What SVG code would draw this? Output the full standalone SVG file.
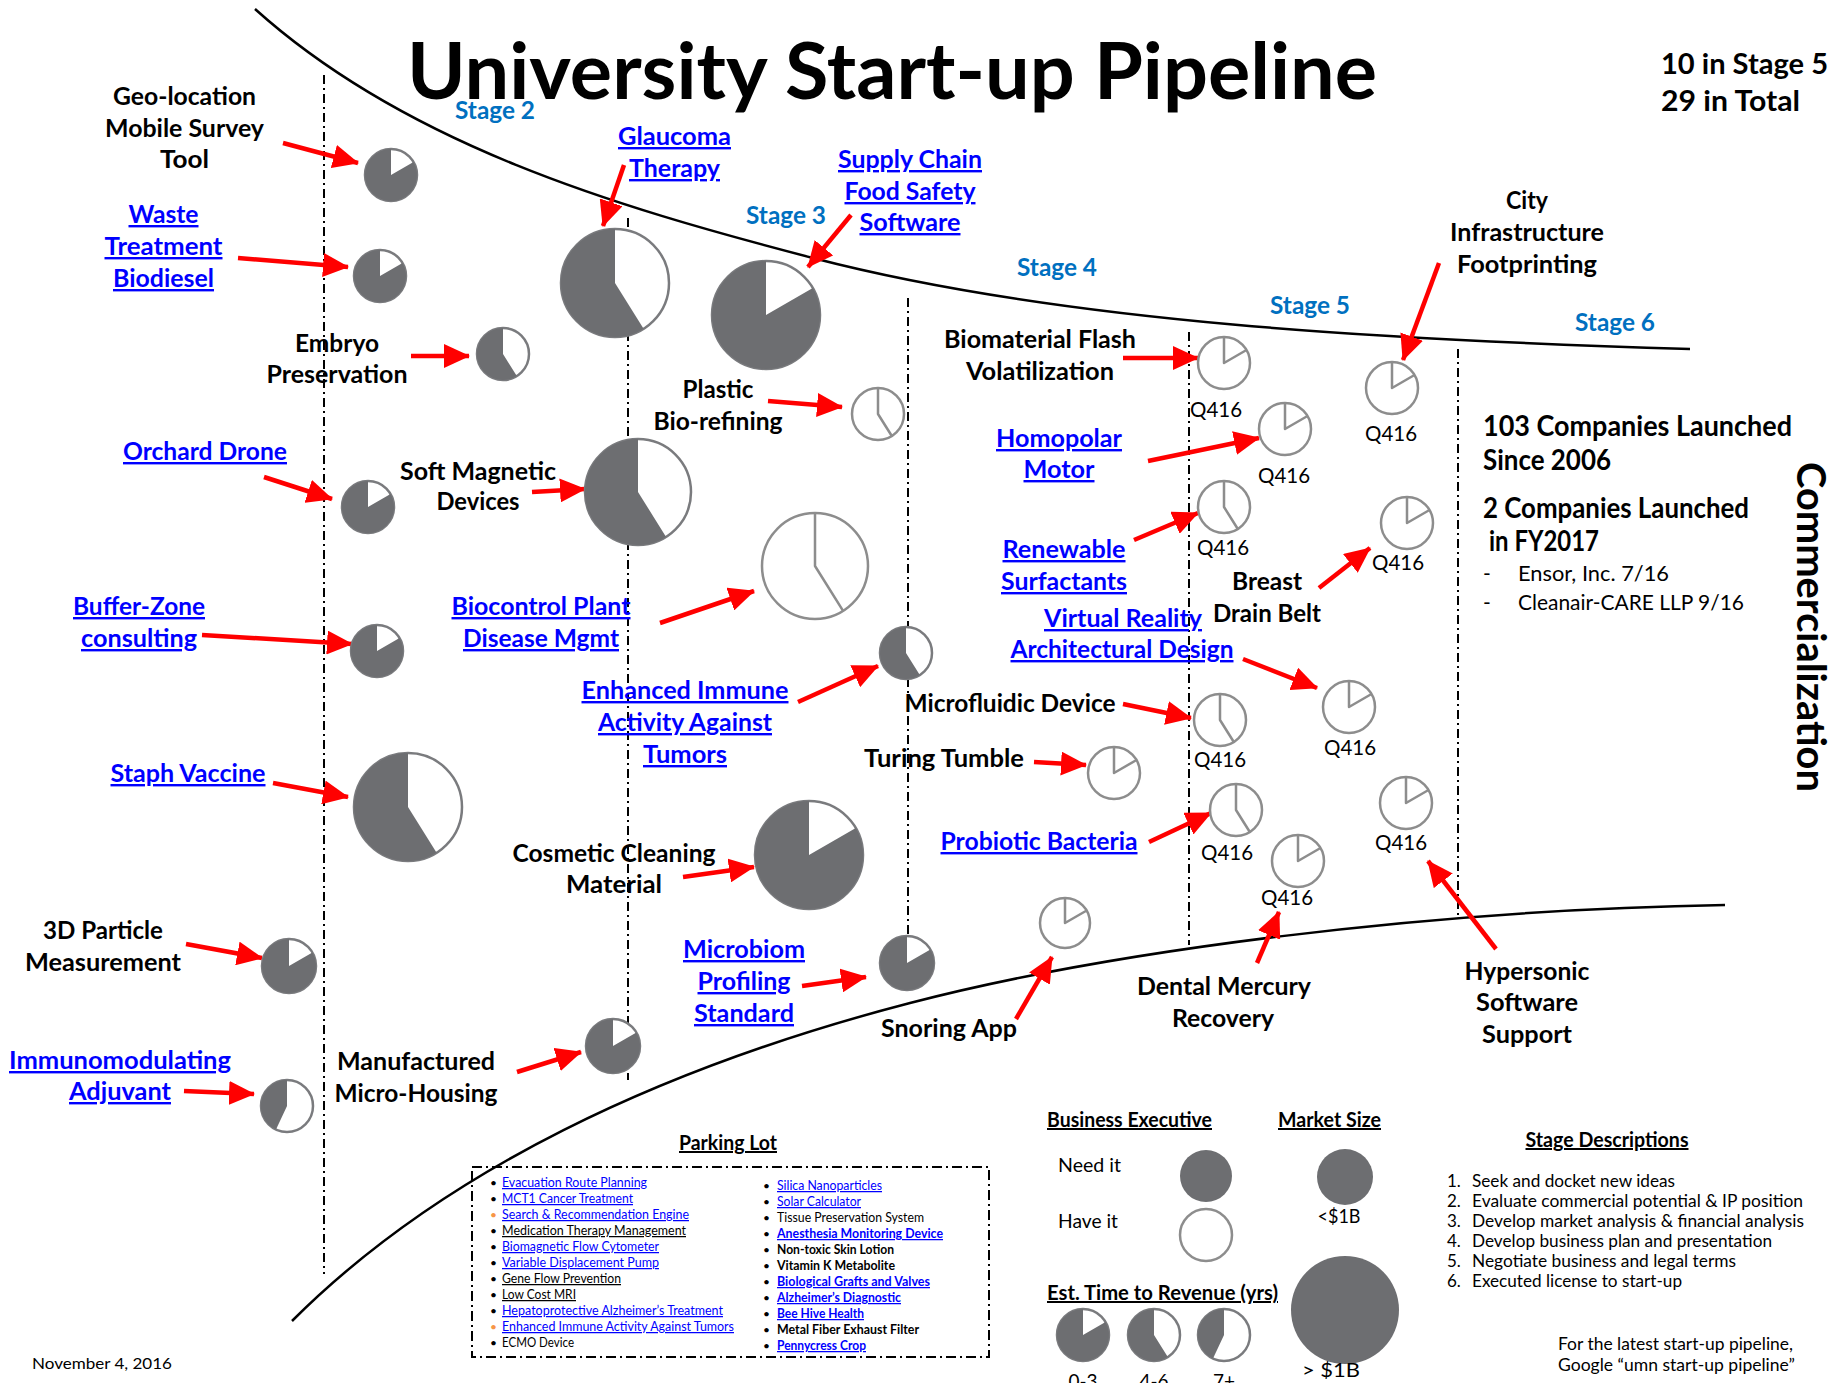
<svg xmlns="http://www.w3.org/2000/svg" width="1833" height="1383" viewBox="0 0 1833 1383">
<defs>
<marker id="ah" markerUnits="userSpaceOnUse" markerWidth="26" markerHeight="24" refX="25" refY="12" orient="auto"><path d="M0,0 L26,12 L0,24 z" fill="#ff0000"/></marker>
</defs>
<style>
text{font-family:Lato,"Open Sans","Liberation Sans",sans-serif}
.lb{font-weight:700;font-size:24px;fill:#000;text-anchor:middle}
.lk{fill:#0000ff;text-decoration:underline}
.st{font-weight:700;font-size:24px;fill:#0070c0;text-anchor:middle}
.q{font-size:22px;fill:#000;text-anchor:middle}
.pg{fill:#6d6e71}
.ring{fill:#fff;stroke:#7a7b7e;stroke-width:2.5}
.hv{fill:#fff;stroke:#8d8d8d;stroke-width:2.5}
.hl{fill:none;stroke:#8d8d8d;stroke-width:2.5;stroke-linejoin:round}
.arr{stroke:#ff0000;stroke-width:4.5;fill:none;marker-end:url(#ah)}
.dv{stroke:#000;stroke-width:2;stroke-dasharray:9 4 2 4;fill:none}
.cv{fill:none;stroke:#000;stroke-width:2.5}
.pl{font-size:12.5px;fill:#000}
.plb{font-size:12.5px;fill:#000;font-weight:700}
.plk{fill:#0000ff;text-decoration:underline}
.bl{font-size:12px;fill:#000}
.sd{font-size:17px;fill:#000}
.hd{font-weight:700;font-size:20px;fill:#000;text-decoration:underline}
.lg{font-size:19px;fill:#000}
.rb{font-weight:700;font-size:28px;fill:#000}
.rr{font-size:21px;fill:#000}
</style>

<g id="frame">
<path class="cv" d="M255,9 C405,144 613,206 813,258 C1063,323 1390,340 1690,349"/>
<path class="cv" d="M292,1321 C442,1171 660,1068 910,1003 C1110,951 1425,910 1725,905"/>
<line class="dv" x1="324" y1="75" x2="324" y2="1274"/>
<line class="dv" x1="628" y1="218" x2="628" y2="1080"/>
<line class="dv" x1="908" y1="298" x2="908" y2="995"/>
<line class="dv" x1="1189" y1="332" x2="1189" y2="945"/>
<line class="dv" x1="1458" y1="349" x2="1458" y2="915"/>
</g>

<g id="titles">
<text x="892" y="99" font-size="78" font-weight="700" text-anchor="middle" textLength="970" lengthAdjust="spacingAndGlyphs">University Start-up Pipeline</text>
<text class="rb" x="1661" y="74" font-size="30" textLength="167" lengthAdjust="spacingAndGlyphs">10 in Stage 5</text>
<text class="rb" x="1661" y="111" font-size="30" textLength="139" lengthAdjust="spacingAndGlyphs">29 in Total</text>
<text class="st" x="495" y="119" textLength="80" lengthAdjust="spacingAndGlyphs">Stage 2</text>
<text class="st" x="786" y="224" textLength="80" lengthAdjust="spacingAndGlyphs">Stage 3</text>
<text class="st" x="1057" y="276" textLength="80" lengthAdjust="spacingAndGlyphs">Stage 4</text>
<text class="st" x="1310" y="314" textLength="80" lengthAdjust="spacingAndGlyphs">Stage 5</text>
<text class="st" x="1615" y="331" textLength="80" lengthAdjust="spacingAndGlyphs">Stage 6</text>
<text x="0" y="0" font-size="40" font-weight="700" transform="translate(1797,462) rotate(90)" textLength="330" lengthAdjust="spacingAndGlyphs">Commercialization</text>
</g>

<g id="connectors">
<line class="arr" x1="283" y1="143" x2="358" y2="163"/>
<line class="arr" x1="238" y1="258" x2="348" y2="267"/>
<line class="arr" x1="411" y1="356" x2="469" y2="356"/>
<line class="arr" x1="264" y1="477" x2="332" y2="499"/>
<line class="arr" x1="202" y1="635" x2="352" y2="644"/>
<line class="arr" x1="273" y1="783" x2="348" y2="797"/>
<line class="arr" x1="186" y1="944" x2="262" y2="958"/>
<line class="arr" x1="184" y1="1091" x2="254" y2="1094"/>
<line class="arr" x1="624" y1="165" x2="603" y2="226"/>
<line class="arr" x1="768" y1="401" x2="842" y2="407"/>
<line class="arr" x1="532" y1="492" x2="585" y2="489"/>
<line class="arr" x1="660" y1="623" x2="754" y2="591"/>
<line class="arr" x1="683" y1="877" x2="754" y2="867"/>
<line class="arr" x1="517" y1="1072" x2="581" y2="1052"/>
<line class="arr" x1="851" y1="215" x2="808" y2="267"/>
<line class="arr" x1="798" y1="702" x2="878" y2="666"/>
<line class="arr" x1="802" y1="986" x2="866" y2="977"/>
<line class="arr" x1="1123" y1="358" x2="1198" y2="358"/>
<line class="arr" x1="1148" y1="461" x2="1259" y2="438"/>
<line class="arr" x1="1134" y1="540" x2="1198" y2="513"/>
<line class="arr" x1="1243" y1="659" x2="1317" y2="688"/>
<line class="arr" x1="1123" y1="704" x2="1191" y2="718"/>
<line class="arr" x1="1034" y1="762" x2="1086" y2="765"/>
<line class="arr" x1="1149" y1="842" x2="1211" y2="813"/>
<line class="arr" x1="1016" y1="1019" x2="1052" y2="957"/>
<line class="arr" x1="1439" y1="263" x2="1403" y2="360"/>
<line class="arr" x1="1319" y1="588" x2="1370" y2="548"/>
<line class="arr" x1="1496" y1="949" x2="1428" y2="861"/>
<line class="arr" x1="1257" y1="963" x2="1279" y2="912"/>
</g>

<g id="n-geo">
<text class="lb" x="184.5" y="105" textLength="143" lengthAdjust="spacingAndGlyphs">Geo-location</text>
<text class="lb" x="184.5" y="137" textLength="159" lengthAdjust="spacingAndGlyphs">Mobile Survey</text>
<text class="lb" x="184.5" y="168" textLength="49" lengthAdjust="spacingAndGlyphs">Tool</text>
<circle class="ring" cx="391" cy="175" r="26"/><path class="pg" d="M391,175 L413.5,162 A26,26 0 1 1 391,149 Z"/>
</g>
<g id="n-waste">
<text class="lb lk" x="163.5" y="223" textLength="70" lengthAdjust="spacingAndGlyphs">Waste</text>
<text class="lb lk" x="163.5" y="255" textLength="118" lengthAdjust="spacingAndGlyphs">Treatment</text>
<text class="lb lk" x="163.5" y="287" textLength="101" lengthAdjust="spacingAndGlyphs">Biodiesel</text>
<circle class="ring" cx="380" cy="276" r="26"/><path class="pg" d="M380,276 L402.5,263 A26,26 0 1 1 380,250 Z"/>
</g>
<g id="n-embryo">
<text class="lb" x="337" y="352" textLength="84" lengthAdjust="spacingAndGlyphs">Embryo</text>
<text class="lb" x="337" y="383" textLength="141" lengthAdjust="spacingAndGlyphs">Preservation</text>
<circle class="ring" cx="503" cy="354" r="26"/><path class="pg" d="M503,354 L516.8,376 A26,26 0 1 1 503,328 Z"/>
</g>
<g id="n-orchard">
<text class="lb lk" x="205" y="460" textLength="164" lengthAdjust="spacingAndGlyphs">Orchard Drone</text>
<circle class="ring" cx="368" cy="507" r="26"/><path class="pg" d="M368,507 L390.5,494 A26,26 0 1 1 368,481 Z"/>
</g>
<g id="n-buffer">
<text class="lb lk" x="139" y="615" textLength="132" lengthAdjust="spacingAndGlyphs">Buffer-Zone</text>
<text class="lb lk" x="139" y="647" textLength="116" lengthAdjust="spacingAndGlyphs">consulting</text>
<circle class="ring" cx="377" cy="651" r="26"/><path class="pg" d="M377,651 L399.5,638 A26,26 0 1 1 377,625 Z"/>
</g>
<g id="n-staph">
<text class="lb lk" x="188" y="782" textLength="155" lengthAdjust="spacingAndGlyphs">Staph Vaccine</text>
<circle class="ring" cx="408" cy="807" r="54"/><path class="pg" d="M408,807 L436.6,852.8 A54,54 0 1 1 408,753 Z"/>
</g>
<g id="n-3d">
<text class="lb" x="103" y="939" textLength="120" lengthAdjust="spacingAndGlyphs">3D Particle</text>
<text class="lb" x="103" y="971" textLength="156" lengthAdjust="spacingAndGlyphs">Measurement</text>
<circle class="ring" cx="289" cy="966" r="27"/><path class="pg" d="M289,966 L312.4,952.5 A27,27 0 1 1 289,939 Z"/>
</g>
<g id="n-immuno">
<text class="lb lk" x="120" y="1069" textLength="222" lengthAdjust="spacingAndGlyphs">Immunomodulating</text>
<text class="lb lk" x="120" y="1100" textLength="102" lengthAdjust="spacingAndGlyphs">Adjuvant</text>
<circle class="ring" cx="287" cy="1106" r="26"/><path class="pg" d="M287,1106 L276,1129.6 A26,26 0 0 1 287,1080 Z"/>
</g>
<g id="n-glaucoma">
<text class="lb lk" x="674.5" y="145" textLength="113" lengthAdjust="spacingAndGlyphs">Glaucoma</text>
<text class="lb lk" x="674.5" y="177" textLength="91" lengthAdjust="spacingAndGlyphs">Therapy</text>
<circle class="ring" cx="615" cy="283" r="54"/><path class="pg" d="M615,283 L643.6,328.8 A54,54 0 1 1 615,229 Z"/>
</g>
<g id="n-plastic">
<text class="lb" x="718" y="398" textLength="71" lengthAdjust="spacingAndGlyphs">Plastic</text>
<text class="lb" x="718" y="430" textLength="129" lengthAdjust="spacingAndGlyphs">Bio-refining</text>
<circle class="hv" cx="878" cy="414" r="26"/><path class="hl" d="M878,388 L878,414 L891.8,436"/>
</g>
<g id="n-softmag">
<text class="lb" x="478" y="480" textLength="156" lengthAdjust="spacingAndGlyphs">Soft Magnetic</text>
<text class="lb" x="478" y="510" textLength="83" lengthAdjust="spacingAndGlyphs">Devices</text>
<circle class="ring" cx="638" cy="492" r="53"/><path class="pg" d="M638,492 L666.1,536.9 A53,53 0 1 1 638,439 Z"/>
</g>
<g id="n-biocontrol">
<text class="lb lk" x="541" y="615" textLength="179" lengthAdjust="spacingAndGlyphs">Biocontrol Plant</text>
<text class="lb lk" x="541" y="647" textLength="156" lengthAdjust="spacingAndGlyphs">Disease Mgmt</text>
<circle class="hv" cx="815" cy="566" r="53"/><path class="hl" d="M815,513 L815,566 L843.1,610.9"/>
</g>
<g id="n-cosmetic">
<text class="lb" x="614" y="862" textLength="203" lengthAdjust="spacingAndGlyphs">Cosmetic Cleaning</text>
<text class="lb" x="614" y="893" textLength="96" lengthAdjust="spacingAndGlyphs">Material</text>
<circle class="ring" cx="809" cy="855" r="54"/><path class="pg" d="M809,855 L855.8,828 A54,54 0 1 1 809,801 Z"/>
</g>
<g id="n-manufactured">
<text class="lb" x="416" y="1070" textLength="158" lengthAdjust="spacingAndGlyphs">Manufactured</text>
<text class="lb" x="416" y="1102" textLength="163" lengthAdjust="spacingAndGlyphs">Micro-Housing</text>
<circle class="ring" cx="613" cy="1046" r="27"/><path class="pg" d="M613,1046 L636.4,1032.5 A27,27 0 1 1 613,1019 Z"/>
</g>
<g id="n-supply">
<text class="lb lk" x="910" y="168" textLength="144" lengthAdjust="spacingAndGlyphs">Supply Chain</text>
<text class="lb lk" x="910" y="200" textLength="131" lengthAdjust="spacingAndGlyphs">Food Safety</text>
<text class="lb lk" x="910" y="231" textLength="101" lengthAdjust="spacingAndGlyphs">Software</text>
<circle class="ring" cx="766" cy="315" r="54"/><path class="pg" d="M766,315 L812.8,288 A54,54 0 1 1 766,261 Z"/>
</g>
<g id="n-enhanced">
<text class="lb lk" x="685" y="699" textLength="207" lengthAdjust="spacingAndGlyphs">Enhanced Immune</text>
<text class="lb lk" x="685" y="731" textLength="174" lengthAdjust="spacingAndGlyphs">Activity Against</text>
<text class="lb lk" x="685" y="763" textLength="84" lengthAdjust="spacingAndGlyphs">Tumors</text>
<circle class="ring" cx="906" cy="653" r="26"/><path class="pg" d="M906,653 L919.8,675 A26,26 0 1 1 906,627 Z"/>
</g>
<g id="n-microbiom">
<text class="lb lk" x="744" y="958" textLength="122" lengthAdjust="spacingAndGlyphs">Microbiom</text>
<text class="lb lk" x="744" y="990" textLength="93" lengthAdjust="spacingAndGlyphs">Profiling</text>
<text class="lb lk" x="744" y="1022" textLength="100" lengthAdjust="spacingAndGlyphs">Standard</text>
<circle class="ring" cx="907" cy="963" r="27"/><path class="pg" d="M907,963 L930.4,949.5 A27,27 0 1 1 907,936 Z"/>
</g>
<g id="n-biomaterial">
<text class="lb" x="1040" y="348" textLength="192" lengthAdjust="spacingAndGlyphs">Biomaterial Flash</text>
<text class="lb" x="1040" y="380" textLength="148" lengthAdjust="spacingAndGlyphs">Volatilization</text>
<circle class="hv" cx="1224" cy="363" r="26"/><path class="hl" d="M1224,337 L1224,363 L1246.5,350"/>
<text class="q" x="1216" y="417" textLength="52" lengthAdjust="spacingAndGlyphs">Q416</text>
</g>
<g id="n-homopolar">
<text class="lb lk" x="1059" y="447" textLength="126" lengthAdjust="spacingAndGlyphs">Homopolar</text>
<text class="lb lk" x="1059" y="478" textLength="71" lengthAdjust="spacingAndGlyphs">Motor</text>
<circle class="hv" cx="1285" cy="429" r="26"/><path class="hl" d="M1285,403 L1285,429 L1307.5,416"/>
<text class="q" x="1284" y="483" textLength="52" lengthAdjust="spacingAndGlyphs">Q416</text>
</g>
<g id="n-renewable">
<text class="lb lk" x="1064" y="558" textLength="123" lengthAdjust="spacingAndGlyphs">Renewable</text>
<text class="lb lk" x="1064" y="590" textLength="126" lengthAdjust="spacingAndGlyphs">Surfactants</text>
<circle class="hv" cx="1224" cy="507" r="26"/><path class="hl" d="M1224,481 L1224,507 L1237.8,529"/>
<text class="q" x="1223" y="555" textLength="52" lengthAdjust="spacingAndGlyphs">Q416</text>
</g>
<g id="n-vr">
<text class="lb lk" x="1123" y="627" textLength="158" lengthAdjust="spacingAndGlyphs">Virtual Reality</text>
<text class="lb lk" x="1122" y="658" textLength="223" lengthAdjust="spacingAndGlyphs">Architectural Design</text>
<circle class="hv" cx="1349" cy="707" r="26"/><path class="hl" d="M1349,681 L1349,707 L1371.5,694"/>
<text class="q" x="1350" y="755" textLength="52" lengthAdjust="spacingAndGlyphs">Q416</text>
</g>
<g id="n-microfluidic">
<text class="lb" x="1010" y="712" textLength="211" lengthAdjust="spacingAndGlyphs">Microfluidic Device</text>
<circle class="hv" cx="1220" cy="720" r="26"/><path class="hl" d="M1220,694 L1220,720 L1233.8,742"/>
<text class="q" x="1220" y="767" textLength="52" lengthAdjust="spacingAndGlyphs">Q416</text>
</g>
<g id="n-turing">
<text class="lb" x="944" y="767" textLength="160" lengthAdjust="spacingAndGlyphs">Turing Tumble</text>
<circle class="hv" cx="1114" cy="773" r="26"/><path class="hl" d="M1114,747 L1114,773 L1136.5,760"/>
</g>
<g id="n-probiotic">
<text class="lb lk" x="1039" y="850" textLength="197" lengthAdjust="spacingAndGlyphs">Probiotic Bacteria</text>
<circle class="hv" cx="1236" cy="810" r="26"/><path class="hl" d="M1236,784 L1236,810 L1249.8,832"/>
<text class="q" x="1227" y="860" textLength="52" lengthAdjust="spacingAndGlyphs">Q416</text>
</g>
<g id="n-snoring">
<text class="lb" x="949" y="1037" textLength="136" lengthAdjust="spacingAndGlyphs">Snoring App</text>
<circle class="hv" cx="1065" cy="923" r="25"/><path class="hl" d="M1065,898 L1065,923 L1086.7,910.5"/>
</g>
<g id="n-city">
<text class="lb" x="1527" y="209" textLength="42" lengthAdjust="spacingAndGlyphs">City</text>
<text class="lb" x="1527" y="241" textLength="154" lengthAdjust="spacingAndGlyphs">Infrastructure</text>
<text class="lb" x="1527" y="273" textLength="140" lengthAdjust="spacingAndGlyphs">Footprinting</text>
<circle class="hv" cx="1392" cy="388" r="26"/><path class="hl" d="M1392,362 L1392,388 L1414.5,375"/>
<text class="q" x="1391" y="441" textLength="52" lengthAdjust="spacingAndGlyphs">Q416</text>
</g>
<g id="n-breast">
<text class="lb" x="1267" y="590" textLength="70" lengthAdjust="spacingAndGlyphs">Breast</text>
<text class="lb" x="1267" y="622" textLength="108" lengthAdjust="spacingAndGlyphs">Drain Belt</text>
<circle class="hv" cx="1407" cy="523" r="26"/><path class="hl" d="M1407,497 L1407,523 L1429.5,510"/>
<text class="q" x="1398" y="570" textLength="52" lengthAdjust="spacingAndGlyphs">Q416</text>
</g>
<g id="n-hypersonic">
<text class="lb" x="1527" y="980" textLength="125" lengthAdjust="spacingAndGlyphs">Hypersonic</text>
<text class="lb" x="1527" y="1011" textLength="102" lengthAdjust="spacingAndGlyphs">Software</text>
<text class="lb" x="1527" y="1043" textLength="90" lengthAdjust="spacingAndGlyphs">Support</text>
<circle class="hv" cx="1406" cy="803" r="26"/><path class="hl" d="M1406,777 L1406,803 L1428.5,790"/>
<text class="q" x="1401" y="850" textLength="52" lengthAdjust="spacingAndGlyphs">Q416</text>
</g>
<g id="n-dental">
<text class="lb" x="1224" y="995" textLength="174" lengthAdjust="spacingAndGlyphs">Dental Mercury</text>
<text class="lb" x="1223" y="1027" textLength="102" lengthAdjust="spacingAndGlyphs">Recovery</text>
<circle class="hv" cx="1298" cy="861" r="26"/><path class="hl" d="M1298,835 L1298,861 L1320.5,848"/>
<text class="q" x="1287" y="905" textLength="52" lengthAdjust="spacingAndGlyphs">Q416</text>
</g>

<g id="launched">
<text class="rb" x="1483" y="436" textLength="309" lengthAdjust="spacingAndGlyphs">103 Companies Launched</text>
<text class="rb" x="1483" y="470" textLength="128" lengthAdjust="spacingAndGlyphs">Since 2006</text>
<text class="rb" x="1483" y="518" font-size="26" textLength="266" lengthAdjust="spacingAndGlyphs">2 Companies Launched</text>
<text class="rb" x="1489" y="551" font-size="26" textLength="110" lengthAdjust="spacingAndGlyphs">in FY2017</text>
<text class="rr" x="1483" y="581">-</text>
<text class="rr" x="1518" y="581" textLength="151" lengthAdjust="spacingAndGlyphs">Ensor, Inc. 7/16</text>
<text class="rr" x="1483" y="610">-</text>
<text class="rr" x="1518" y="610" textLength="226" lengthAdjust="spacingAndGlyphs">Cleanair-CARE LLP 9/16</text>
</g>

<g id="parking-lot">
<text class="hd" x="728" y="1150" text-anchor="middle" font-size="19" textLength="98" lengthAdjust="spacingAndGlyphs">Parking Lot</text>
<rect x="472" y="1167" width="517" height="190" fill="none" stroke="#000" stroke-width="2" stroke-dasharray="10 4 2 4"/>
<g class="bl">
<text x="490" y="1187">•</text><text x="490" y="1203">•</text><text x="490" y="1219" fill="#f79646">•</text><text x="490" y="1235">•</text><text x="490" y="1251">•</text><text x="490" y="1267">•</text><text x="490" y="1283">•</text><text x="490" y="1299">•</text><text x="490" y="1315">•</text><text x="490" y="1331" fill="#f79646">•</text><text x="490" y="1347">•</text>
<text x="763" y="1190">•</text><text x="763" y="1206">•</text><text x="763" y="1222">•</text><text x="763" y="1238">•</text><text x="763" y="1254">•</text><text x="763" y="1270">•</text><text x="763" y="1286">•</text><text x="763" y="1302">•</text><text x="763" y="1318">•</text><text x="763" y="1334">•</text><text x="763" y="1350">•</text>
</g>
<text class="pl plk" x="502" y="1187" textLength="145" lengthAdjust="spacingAndGlyphs">Evacuation Route Planning</text>
<text class="pl plk" x="502" y="1203" textLength="131" lengthAdjust="spacingAndGlyphs">MCT1 Cancer Treatment</text>
<text class="pl plk" x="502" y="1219" textLength="187" lengthAdjust="spacingAndGlyphs">Search &amp; Recommendation Engine</text>
<text class="pl" x="502" y="1235" text-decoration="underline" textLength="184" lengthAdjust="spacingAndGlyphs">Medication Therapy Management</text>
<text class="pl plk" x="502" y="1251" textLength="157" lengthAdjust="spacingAndGlyphs">Biomagnetic Flow Cytometer</text>
<text class="pl plk" x="502" y="1267" textLength="157" lengthAdjust="spacingAndGlyphs">Variable Displacement Pump</text>
<text class="pl" x="502" y="1283" text-decoration="underline" textLength="119" lengthAdjust="spacingAndGlyphs">Gene Flow Prevention</text>
<text class="pl" x="502" y="1299" text-decoration="underline" textLength="74" lengthAdjust="spacingAndGlyphs">Low Cost MRI</text>
<text class="pl plk" x="502" y="1315" textLength="221" lengthAdjust="spacingAndGlyphs">Hepatoprotective Alzheimer’s Treatment</text>
<text class="pl plk" x="502" y="1331" textLength="232" lengthAdjust="spacingAndGlyphs">Enhanced Immune Activity Against Tumors</text>
<text class="pl" x="502" y="1347" textLength="72" lengthAdjust="spacingAndGlyphs">ECMO Device</text>
<text class="pl plk" x="777" y="1190" textLength="105" lengthAdjust="spacingAndGlyphs">Silica Nanoparticles</text>
<text class="pl plk" x="777" y="1206" textLength="84" lengthAdjust="spacingAndGlyphs">Solar Calculator</text>
<text class="pl" x="777" y="1222" fill="#333" textLength="147" lengthAdjust="spacingAndGlyphs">Tissue Preservation System</text>
<text class="plb plk" x="777" y="1238" textLength="166" lengthAdjust="spacingAndGlyphs">Anesthesia Monitoring Device</text>
<text class="plb" x="777" y="1254" textLength="117" lengthAdjust="spacingAndGlyphs">Non-toxic Skin Lotion</text>
<text class="plb" x="777" y="1270" textLength="118" lengthAdjust="spacingAndGlyphs">Vitamin K Metabolite</text>
<text class="plb plk" x="777" y="1286" textLength="153" lengthAdjust="spacingAndGlyphs">Biological Grafts and Valves</text>
<text class="plb plk" x="777" y="1302" textLength="124" lengthAdjust="spacingAndGlyphs">Alzheimer’s Diagnostic</text>
<text class="plb plk" x="777" y="1318" textLength="87" lengthAdjust="spacingAndGlyphs">Bee Hive Health</text>
<text class="plb" x="777" y="1334" textLength="142" lengthAdjust="spacingAndGlyphs">Metal Fiber Exhaust Filter</text>
<text class="plb plk" x="777" y="1350" textLength="89" lengthAdjust="spacingAndGlyphs">Pennycress Crop</text>
</g>

<g id="legend">
<text class="hd" x="1047" y="1127" textLength="165" lengthAdjust="spacingAndGlyphs">Business Executive</text>
<text class="hd" x="1278" y="1127" textLength="103" lengthAdjust="spacingAndGlyphs">Market Size</text>
<text class="lg" x="1058" y="1172" textLength="63" lengthAdjust="spacingAndGlyphs">Need it</text>
<text class="lg" x="1058" y="1228" textLength="60" lengthAdjust="spacingAndGlyphs">Have it</text>
<circle class="pg" cx="1206" cy="1176" r="26"/>
<circle class="hv" cx="1206" cy="1235" r="26"/>
<circle class="pg" cx="1345" cy="1177" r="28"/>
<text class="lg" x="1339" y="1223" text-anchor="middle" textLength="43" lengthAdjust="spacingAndGlyphs">&lt;$1B</text>
<circle class="pg" cx="1345" cy="1310" r="54"/>
<text class="lg" x="1331" y="1377" text-anchor="middle" textLength="58" lengthAdjust="spacingAndGlyphs">&gt; $1B</text>
<text class="hd" x="1047" y="1300" textLength="231" lengthAdjust="spacingAndGlyphs">Est. Time to Revenue (yrs)</text>
<circle class="ring" cx="1083" cy="1335" r="26"/><path class="pg" d="M1083,1335 L1105.5,1322 A26,26 0 1 1 1083,1309 Z"/>
<circle class="ring" cx="1154" cy="1335" r="26"/><path class="pg" d="M1154,1335 L1167.8,1357 A26,26 0 1 1 1154,1309 Z"/>
<circle class="ring" cx="1224" cy="1335" r="26"/><path class="pg" d="M1224,1335 L1213,1358.6 A26,26 0 0 1 1224,1309 Z"/>
<text class="lg" x="1083" y="1388" text-anchor="middle">0-3</text>
<text class="lg" x="1154" y="1388" text-anchor="middle">4-6</text>
<text class="lg" x="1224" y="1388" text-anchor="middle">7+</text>
</g>

<g id="stage-descriptions">
<text class="hd" x="1607" y="1147" text-anchor="middle" textLength="163" lengthAdjust="spacingAndGlyphs">Stage Descriptions</text>
<text class="sd" x="1447" y="1187">1.</text><text class="sd" x="1472" y="1187" textLength="203" lengthAdjust="spacingAndGlyphs">Seek and docket new ideas</text>
<text class="sd" x="1447" y="1207">2.</text><text class="sd" x="1472" y="1207" textLength="331" lengthAdjust="spacingAndGlyphs">Evaluate commercial potential &amp; IP position</text>
<text class="sd" x="1447" y="1227">3.</text><text class="sd" x="1472" y="1227" textLength="332" lengthAdjust="spacingAndGlyphs">Develop market analysis &amp; financial analysis</text>
<text class="sd" x="1447" y="1247">4.</text><text class="sd" x="1472" y="1247" textLength="300" lengthAdjust="spacingAndGlyphs">Develop business plan and presentation</text>
<text class="sd" x="1447" y="1267">5.</text><text class="sd" x="1472" y="1267" textLength="264" lengthAdjust="spacingAndGlyphs">Negotiate business and legal terms</text>
<text class="sd" x="1447" y="1287">6.</text><text class="sd" x="1472" y="1287" textLength="210" lengthAdjust="spacingAndGlyphs">Executed license to start-up</text>
<text class="sd" x="1558" y="1350" textLength="235" lengthAdjust="spacingAndGlyphs">For the latest start-up pipeline,</text>
<text class="sd" x="1558" y="1371" textLength="237" lengthAdjust="spacingAndGlyphs">Google “umn start-up pipeline”</text>
</g>

<g id="footer">
<text x="32" y="1369" font-size="16" fill="#000" textLength="140" lengthAdjust="spacingAndGlyphs">November 4, 2016</text>
</g>
</svg>
